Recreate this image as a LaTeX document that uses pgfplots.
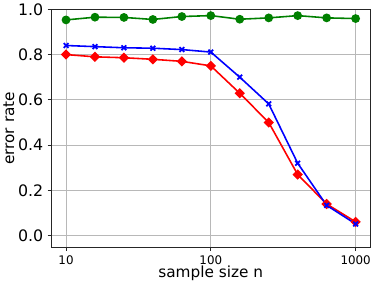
\documentclass[border=0pt]{standalone}
\usepackage{pgfplots}
\pgfplotsset{compat=1.18}
\usepackage{fontspec}
\setmainfont{DejaVu Sans}
\definecolor{mgreen}{rgb}{0,0.5,0}
\begin{document}
\begin{tikzpicture}
\begin{axis}[
  scale only axis, width=323pt, height=241pt,
  xmode=log, xmin=7.9, xmax=1265, ymin=-0.052, ymax=1.0,
  xtick={10,100,1000}, xticklabels={10,100,1000},
  ytick={0,0.2,0.4,0.6,0.8,1.0}, yticklabels={0.0,0.2,0.4,0.6,0.8,1.0},
  xminorticks=false, yminorticks=false,
  grid=major, major grid style={color=black!28, line width=0.8pt},
  axis line style={color=black!85, line width=0.8pt},
  tick align=outside, tick pos=left, major tick length=3.5pt,
  tick style={color=black!85, line width=0.8pt},
  x tick label style={font=\fontsize{12}{14}\selectfont, yshift=-1pt},
  y tick label style={font=\fontsize{16}{19}\selectfont, xshift=-1pt},
  xlabel={sample size n}, ylabel={error rate},
  label style={font=\fontsize{15.5}{18}\selectfont},
  xlabel style={yshift=5pt},
  ylabel style={yshift=-3pt},
]
\addplot[color=mgreen, line width=1.6pt, mark=*, mark size=3.6pt] coordinates {
(10,0.953) (15.85,0.965) (25.12,0.964) (39.81,0.955) (63.1,0.968) (100,0.972) (158.5,0.956) (251.2,0.962) (398.1,0.972) (631,0.962) (1000,0.959)};
\addplot[color=red, line width=1.6pt, mark=square*, mark size=2.9pt, mark options={rotate=45}] coordinates {
(10,0.800) (15.85,0.790) (25.12,0.786) (39.81,0.779) (63.1,0.770) (100,0.750) (158.5,0.629) (251.2,0.500) (398.1,0.270) (631,0.140) (1000,0.061)};
\addplot[color=blue, line width=1.6pt, mark=x, mark size=3.4pt, mark options={line width=1.8pt}] coordinates {
(10,0.840) (15.85,0.835) (25.12,0.830) (39.81,0.828) (63.1,0.822) (100,0.811) (158.5,0.700) (251.2,0.582) (398.1,0.320) (631,0.134) (1000,0.052)};
\end{axis}
\end{tikzpicture}
\end{document}
